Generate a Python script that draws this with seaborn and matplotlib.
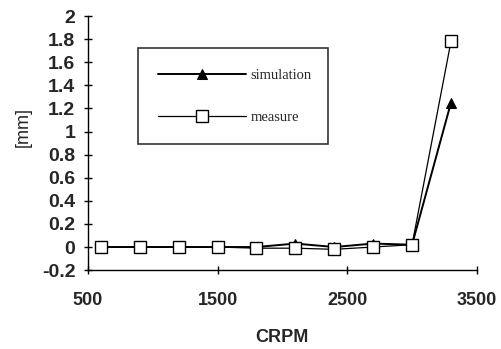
import matplotlib
matplotlib.use("Agg")
import matplotlib.pyplot as plt
import seaborn as sns
import pandas as pd

rpm = [600, 900, 1200, 1500, 1800, 2100, 2400, 2700, 3000, 3300]
simulation = [0.0, 0.0, 0.0, 0.0, 0.0, 0.03, 0.0, 0.03, 0.02, 1.25]
measure = [0.0, 0.0, 0.0, 0.0, -0.01, -0.01, -0.02, 0.0, 0.02, 1.78]

x_ticks = [500, 1500, 2500, 3500]
y_ticks = [-0.2, 0, 0.2, 0.4, 0.6, 0.8, 1, 1.2, 1.4, 1.6, 1.8, 2]
y_labels = ["-0.2", "0", "0.2", "0.4", "0.6", "0.8", "1", "1.2", "1.4", "1.6", "1.8", "2"]

sns.set_style("ticks")
plt.rcParams['font.family'] = ['Liberation Sans', 'DejaVu Sans']

df = pd.DataFrame({"rpm": rpm * 2,
                   "val": simulation + measure,
                   "series": ["simulation"] * len(rpm) + ["measure"] * len(rpm)})

fig = plt.figure(figsize=(5.02, 3.49), dpi=100)
ax = fig.add_axes([0.175, 0.226, 0.775, 0.728])

sns.lineplot(data=df[df.series == "simulation"], x="rpm", y="val", ax=ax,
             color="black", lw=1.4, marker="^", markersize=7,
             markerfacecolor="black", markeredgecolor="black", label="simulation")
sns.lineplot(data=df[df.series == "measure"], x="rpm", y="val", ax=ax,
             color="black", lw=0.9, marker="s", markersize=8,
             markerfacecolor="white", markeredgecolor="black", markeredgewidth=1.0,
             label="measure")

ax.set_xlim(500, 3500)
ax.set_ylim(-0.2, 2)
ax.set_xticks(x_ticks)
ax.set_xticklabels([str(v) for v in x_ticks], fontsize=13, fontweight="bold")
ax.set_yticks(y_ticks)
ax.set_yticklabels(y_labels, fontsize=14, fontweight="bold")
ax.tick_params(axis="both", direction="inout", length=6, width=1, color="black")
ax.tick_params(axis="x", pad=13)
ax.tick_params(axis="y", pad=6)
for s in ["top", "right"]:
    ax.spines[s].set_visible(False)
for s in ["left", "bottom"]:
    ax.spines[s].set_color("black")
    ax.spines[s].set_linewidth(1.0)

ax.set_xlabel("CRPM", fontsize=13, fontweight="bold")
ax.xaxis.set_label_coords(0.5, -0.23)
ax.set_ylabel("[mm]", fontsize=13)
ax.yaxis.set_label_coords(-0.145, 0.563)

leg = ax.legend(loc="upper left", bbox_to_anchor=(0.129, 0.874, 0.488, 0.0),
                mode="expand", borderaxespad=0.0, frameon=True,
                fancybox=False, edgecolor="black", handlelength=6.0,
                labelspacing=2.0, borderpad=1.4, handletextpad=0.3,
                prop={"family": "Liberation Serif", "size": 10.5})
leg.get_frame().set_linewidth(1.2)

fig.savefig("out.png", dpi=100, facecolor="white")
